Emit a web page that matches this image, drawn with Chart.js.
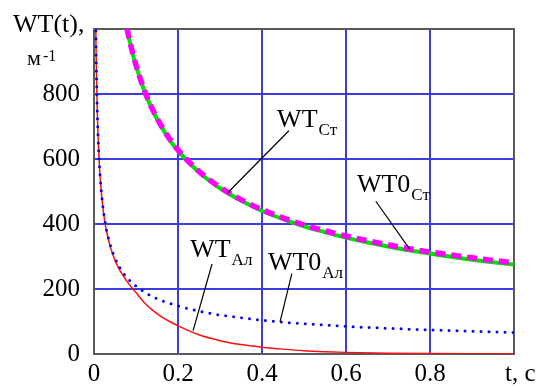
<!DOCTYPE html>
<html><head><meta charset="utf-8">
<script src="https://cdn.jsdelivr.net/npm/chart.js@4.4.1/dist/chart.umd.min.js"></script>
<style>html,body{margin:0;padding:0;background:#fff;}#wrap{width:541px;height:386px;position:relative;}</style>
</head><body><div id="wrap"><canvas id="c" width="541" height="386"></canvas></div>
<script>
// ---- data ----
const tSteel = [0.06,0.07,0.08,0.09,0.1,0.12,0.14,0.16,0.18,0.2,0.25,0.3,0.35,0.4,0.45,0.5,0.55,0.6,0.65,0.7,0.75,0.8,0.85,0.9,0.95,1.0];
const wtSteel = [1145,1060,991,935,887,809,749,700,659,625,559,510,472,440,415,393,375,358,344,331,319,309,299,290,282,275];
const wt0Steel = [1147,1062,993,937,889,811,751,703,662,628,562,513,475,444,419,397,379,363,349,336,324,314,305,296,288,281];
const tAl = [0.004,0.005,0.006,0.008,0.01,0.0125,0.015,0.02,0.025,0.03,0.04,0.05,0.06,0.07,0.08,0.09,0.1,0.12,0.14,0.16,0.18,0.2,0.25,0.3,0.35,0.4,0.45,0.5,0.55,0.6,0.7,0.8,0.9,1.0];
const wtAl = [1043,932,851,737,658,588,537,464,413,377,325,288,261,240,221,204,189,158,134,115,100,87,59,41,29,21,15,10,7,5,2.5,1.2,0.6,0.3];
const wt0Al = [1044,933,852,738,660,590,539,467,417,381,330,295,269,249,233,220,209,191,176,165,156,148,132,120,112,104,98,93,89,85,79,74,70,66];
const xTicks = [0,0.2,0.4,0.6,0.8];
const yTicks = [0,200,400,600,800];
const xMin = 0, xMax = 1, yMin = 0, yMax = 1000;

// annotations: label anchor (t, value) and leader line from/to (t, value)
const notes = [
  {main:'WT',  sub:'Ст', at:[0.436,699], from:[0.464,687], to:[0.319,497]},
  {main:'WT0', sub:'Ст', at:[0.626,500], from:[0.671,470], to:[0.752,322]},
  {main:'WT',  sub:'Ал', at:[0.229,298], from:[0.281,277], to:[0.236,72]},
  {main:'WT0', sub:'Ал', at:[0.414,259], from:[0.471,247], to:[0.443,99]}
];

const SERIF = '"Liberation Serif", "Times New Roman", Times, serif';
const pts = (xs, ys) => xs.map((x, i) => ({x, y: ys[i]}));

const framePlugin = {
  id: 'frame',
  beforeDatasetsDraw(chart) {
    const {ctx, chartArea: a} = chart;
    ctx.save();
    ctx.strokeStyle = '#5a5a5a';
    ctx.lineWidth = 2;
    ctx.strokeRect(a.left, a.top, a.right - a.left, a.bottom - a.top);
    ctx.restore();
  },
  afterDatasetsDraw(chart) {
    const {ctx, scales: {x, y}} = chart;
    ctx.save();
    ctx.strokeStyle = '#000';
    ctx.lineWidth = 1.2;
    ctx.fillStyle = '#000';
    ctx.textBaseline = 'alphabetic';
    ctx.textAlign = 'left';
    notes.forEach(n => {
      ctx.beginPath();
      ctx.moveTo(x.getPixelForValue(n.from[0]), y.getPixelForValue(n.from[1]));
      ctx.lineTo(x.getPixelForValue(n.to[0]), y.getPixelForValue(n.to[1]));
      ctx.stroke();
      const px = x.getPixelForValue(n.at[0]), py = y.getPixelForValue(n.at[1]);
      ctx.font = '26px ' + SERIF;
      ctx.fillText(n.main, px, py);
      const w = ctx.measureText(n.main).width;
      ctx.font = '17px ' + SERIF;
      ctx.fillText(n.sub, px + w + 1, py + 8);
    });
    ctx.restore();
  },
  afterDraw(chart) {
    const {ctx} = chart;
    ctx.save();
    ctx.fillStyle = '#000';
    ctx.textBaseline = 'alphabetic';
    ctx.textAlign = 'left';
    ctx.font = '26px ' + SERIF;
    ctx.fillText('WT(t),', 13, 32);
    ctx.font = '22px ' + SERIF;
    ctx.fillText('м', 27, 65);
    ctx.font = '16px ' + SERIF;
    ctx.fillText('-1', 43, 61);
    ctx.font = '25px ' + SERIF;
    ctx.fillText('t, с', 505, 381);
    ctx.restore();
  }
};

Chart.defaults.font.family = SERIF;

new Chart(document.getElementById('c'), {
  type: 'line',
  data: {
    datasets: [
      {label:'WT0 Ст', data: pts(tSteel, wt0Steel), borderColor:'#ff00ff', borderWidth:5.5, borderDash:[10,6], borderCapStyle:'butt'},
      {label:'WT Ст', data: pts(tSteel, wtSteel), borderColor:'#00dd00', borderWidth:4},
      {label:'WT0 Ал', data: pts(tAl, wt0Al), borderColor:'#0000ff', borderWidth:3, borderDash:[0,8], borderCapStyle:'round'},
      {label:'WT Ал', data: pts(tAl, wtAl), borderColor:'#ff1010', borderWidth:1.5}
    ].map(d => Object.assign({pointRadius:0, fill:false, cubicInterpolationMode:'monotone', clip:0}, d))
  },
  options: {
    responsive: false,
    animation: false,
    devicePixelRatio: 1,
    layout: {padding: {top: 22, right: 27, left: 0, bottom: 0}},
    plugins: {legend: {display: false}, tooltip: {enabled: false}},
    scales: {
      x: {
        type: 'linear', min: xMin, max: xMax,
        afterBuildTicks: s => { s.ticks = xTicks.map(v => ({value: v})); },
        afterFit: s => { s.height = 32; },
        grid: {color: 'rgb(60,60,225)', lineWidth: 2, drawTicks: false},
        border: {display: false},
        ticks: {color: '#000', font: {family: SERIF, size: 25}, padding: 5, maxRotation: 0, autoSkip: false}
      },
      y: {
        type: 'linear', min: yMin, max: yMax,
        afterBuildTicks: s => { s.ticks = yTicks.map(v => ({value: v})); },
        afterFit: s => { s.width = 94; },
        grid: {color: 'rgb(60,60,225)', lineWidth: 2, drawTicks: false},
        border: {display: false},
        ticks: {color: '#000', font: {family: SERIF, size: 25}, padding: 14, autoSkip: false}
      }
    }
  },
  plugins: [framePlugin]
});
</script></body></html>
